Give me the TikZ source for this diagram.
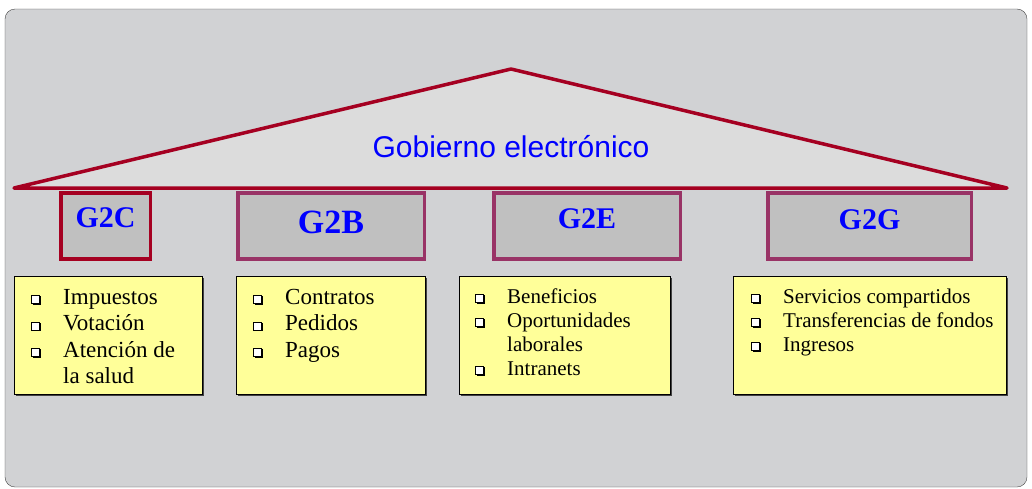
\documentclass[tikz,border=0pt]{standalone}
\usepackage{fontspec}
\setmainfont{Liberation Serif}
\newfontfamily\arialfont{Liberation Sans}
\usepackage{tikz}
\usetikzlibrary{shadows}
\definecolor{panelgray}{HTML}{D1D2D4}
\definecolor{roofgray}{HTML}{DCDCDC}
\definecolor{boxgray}{HTML}{C0C0C0}
\definecolor{crimson}{HTML}{A50021}
\definecolor{plum}{HTML}{993366}
\definecolor{notepad}{HTML}{FFFF99}
\newcommand{\sqbul}{\raisebox{1pt}{\rlap{\kern1.6pt\raisebox{-1.6pt}{\rule{8.6pt}{8.6pt}}}\fboxsep=0pt\fboxrule=0.8pt\fcolorbox{black}{white}{\rule{0pt}{7pt}\rule{7pt}{0pt}}}}
\newcommand{\itm}{\makebox[32pt][l]{\sqbul}}
\tikzstyle{gbox}=[rectangle,draw=plum,line width=3.5pt,fill=boxgray,minimum height=66pt,inner sep=0pt]
\tikzstyle{glabel}=[text=blue,font=\bfseries\fontsize{30}{30}\selectfont,inner sep=0pt]
\tikzstyle{note}=[rectangle,draw=black,line width=1pt,fill=notepad,minimum height=118pt,inner sep=0pt,drop shadow={shadow xshift=1.5pt,shadow yshift=-1.5pt,fill=black!80,opacity=0.9}]
\tikzstyle{items}=[anchor=base west,inner sep=0pt]
\tikzstyle{bigitems}=[items,font=\fontsize{23}{26.5}\selectfont]
\tikzstyle{smallitems}=[items,font=\fontsize{21}{24}\selectfont]

\begin{document}
\begin{tikzpicture}[x=1pt,y=-1pt]

  \useasboundingbox (0,0) rectangle (1032,488);

  % panel
  \draw[draw=black!75,fill=panelgray,rounded corners=10pt] (5,9) rectangle (1027,487);

  % roof
  \draw[crimson,line width=3.5pt,fill=roofgray,line join=round] (14,188) -- (511,69) -- (1007,188) -- cycle;
  \node[text=blue,font=\arialfont\fontsize{30}{30}\selectfont,inner sep=0pt] (gob) at (511,147) {Gobierno electrónico};

  % the four pillars
  \node[gbox,draw=crimson,minimum width=89.5pt] (g2c) at (105.5,226) {};
  \node[gbox,minimum width=186.5pt] (g2b) at (331,226) {};
  \node[gbox,minimum width=186.5pt] (g2e) at (587,226) {};
  \node[gbox,minimum width=203.5pt] (g2g) at (869.5,226) {};

  \node[glabel] (g2c-t) at (105.5,218) {G2C};
  \node[glabel,font=\bfseries\fontsize{34}{34}\selectfont] (g2b-t) at (331,222) {G2B};
  \node[glabel] (g2e-t) at (587,219) {G2E};
  \node[glabel] (g2g-t) at (869.5,220) {G2G};

  % notes
  \node[note,minimum width=188pt] (n2c) at (108.5,335.5) {};
  \node[note,minimum width=189pt] (n2b) at (331,335.5) {};
  \node[note,minimum width=211pt] (n2e) at (565,335.5) {};
  \node[note,minimum width=273pt] (n2g) at (870,335.5) {};

  \node[bigitems] (l2c) at (31,304) {\begin{tabular}[t]{@{}l@{}}
    \itm Impuestos\\ \itm Votación\\ \itm Atención de\\ \hspace*{32pt}la salud
  \end{tabular}};
  \node[bigitems] (l2b) at (253,304) {\begin{tabular}[t]{@{}l@{}}
    \itm Contratos\\ \itm Pedidos\\ \itm Pagos
  \end{tabular}};
  \node[smallitems] (l2e) at (475,303) {\begin{tabular}[t]{@{}l@{}}
    \itm Beneficios\\ \itm Oportunidades\\ \hspace*{32pt}laborales\\ \itm Intranets
  \end{tabular}};
  \node[smallitems] (l2g) at (751,303) {\begin{tabular}[t]{@{}l@{}}
    \itm Servicios compartidos\\ \itm Transferencias de fondos\\ \itm Ingresos
  \end{tabular}};

\end{tikzpicture}
\end{document}
